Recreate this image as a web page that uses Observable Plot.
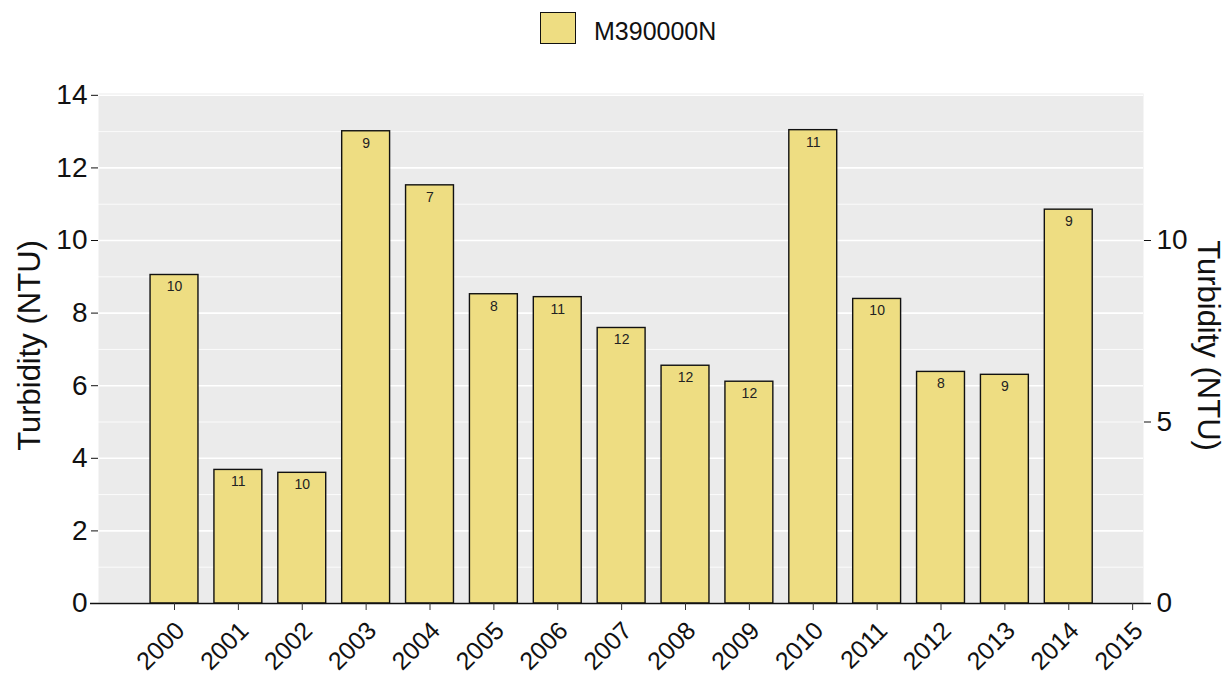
<!DOCTYPE html>
<html>
<head>
<meta charset="utf-8">
<script src="https://cdn.jsdelivr.net/npm/d3@7"></script>
<script src="https://cdn.jsdelivr.net/npm/@observablehq/plot@0.6"></script>
<style>
  body { margin: 0; background: white; font-family: "Liberation Sans", Arial, sans-serif; }
  #legend { position: relative; width: 1227px; height: 60px; }
  #legend .key { position: absolute; left: 540px; top: 12px; width: 34px; height: 30px; border: 1.5px solid #111; background: #EEDD82; }
  #legend .lab { position: absolute; left: 594px; top: 16px; font-size: 25px; line-height: 30px; color: #111; }
  svg { display: block; }
</style>
</head>
<body>
<div id="legend"><div class="key"></div><div class="lab">M390000N</div></div>
<div id="chart"></div>
<script>
const seriesName = "M390000N";
const years = [2000, 2001, 2002, 2003, 2004, 2005, 2006, 2007, 2008, 2009, 2010, 2011, 2012, 2013, 2014];
const turbidity = [9.05, 3.68, 3.60, 13.01, 11.52, 8.52, 8.44, 7.59, 6.55, 6.11, 13.04, 8.39, 6.38, 6.30, 10.85];
const counts = [10, 11, 10, 9, 7, 8, 11, 12, 12, 12, 11, 10, 8, 9, 9];
const xTicks = [2000, 2001, 2002, 2003, 2004, 2005, 2006, 2007, 2008, 2009, 2010, 2011, 2012, 2013, 2014, 2015];
const yTicksLeft = [0, 2, 4, 6, 8, 10, 12, 14];
const yTicksRight = [0, 5, 10];
const yMinor = [1, 3, 5, 7, 9, 11, 13];
const axisTitle = "Turbidity (NTU)";

const data = years.map((year, i) => ({year, value: turbidity[i], n: counts[i]}));
const halfWidth = 0.375;

const chart = Plot.plot({
  width: 1227,
  height: 617,
  marginTop: 33,
  marginBottom: 74,
  marginLeft: 98,
  marginRight: 84,
  style: {fontFamily: "'Liberation Sans', Arial, sans-serif", background: "white", color: "#111"},
  x: {domain: [1998.81, 2015.17]},
  y: {domain: [0, 14.05]},
  marks: [
    Plot.frame({fill: "#EBEBEB", stroke: null}),
    Plot.ruleY(yMinor, {stroke: "white", strokeWidth: 0.8}),
    Plot.ruleY(yTicksLeft, {stroke: "white", strokeWidth: 1.6}),
    Plot.rectY(data, {x1: d => d.year - halfWidth, x2: d => d.year + halfWidth, y: "value", fill: "#EEDD82", stroke: "#111", strokeWidth: 1.4}),
    Plot.text(data, {x: "year", y: "value", text: d => String(d.n), dy: 12, fontSize: 14, fill: "#222"}),
    Plot.ruleY([0], {stroke: "#111", strokeWidth: 1.6, insetLeft: -8, insetRight: -8}),
    Plot.axisY({anchor: "left", ticks: yTicksLeft, tickSize: 7, tickPadding: 4, fontSize: 28, label: null, color: "#111"}),
    Plot.axisY({anchor: "right", ticks: yTicksRight, tickSize: 7, tickPadding: 6, fontSize: 28, label: null, color: "#111"}),
    Plot.axisX({ticks: xTicks, tickFormat: () => "", tickSize: 7, label: null, color: "#333"}),
    Plot.axisX({ticks: xTicks, tickFormat: d => String(d), tickRotate: -45, fontSize: 25, tickSize: 0, tickPadding: 11, label: null, color: "#111", dx: 6, dy: 12}),
    Plot.text([axisTitle], {frameAnchor: "left", dx: -68, dy: -3, rotate: -90, textAnchor: "middle", fontSize: 31, fill: "#111"}),
    Plot.text([axisTitle], {frameAnchor: "right", dx: 64, dy: -3, rotate: 90, textAnchor: "middle", fontSize: 31, fill: "#111"})
  ]
});
document.getElementById("chart").appendChild(chart);
</script>
</body>
</html>
